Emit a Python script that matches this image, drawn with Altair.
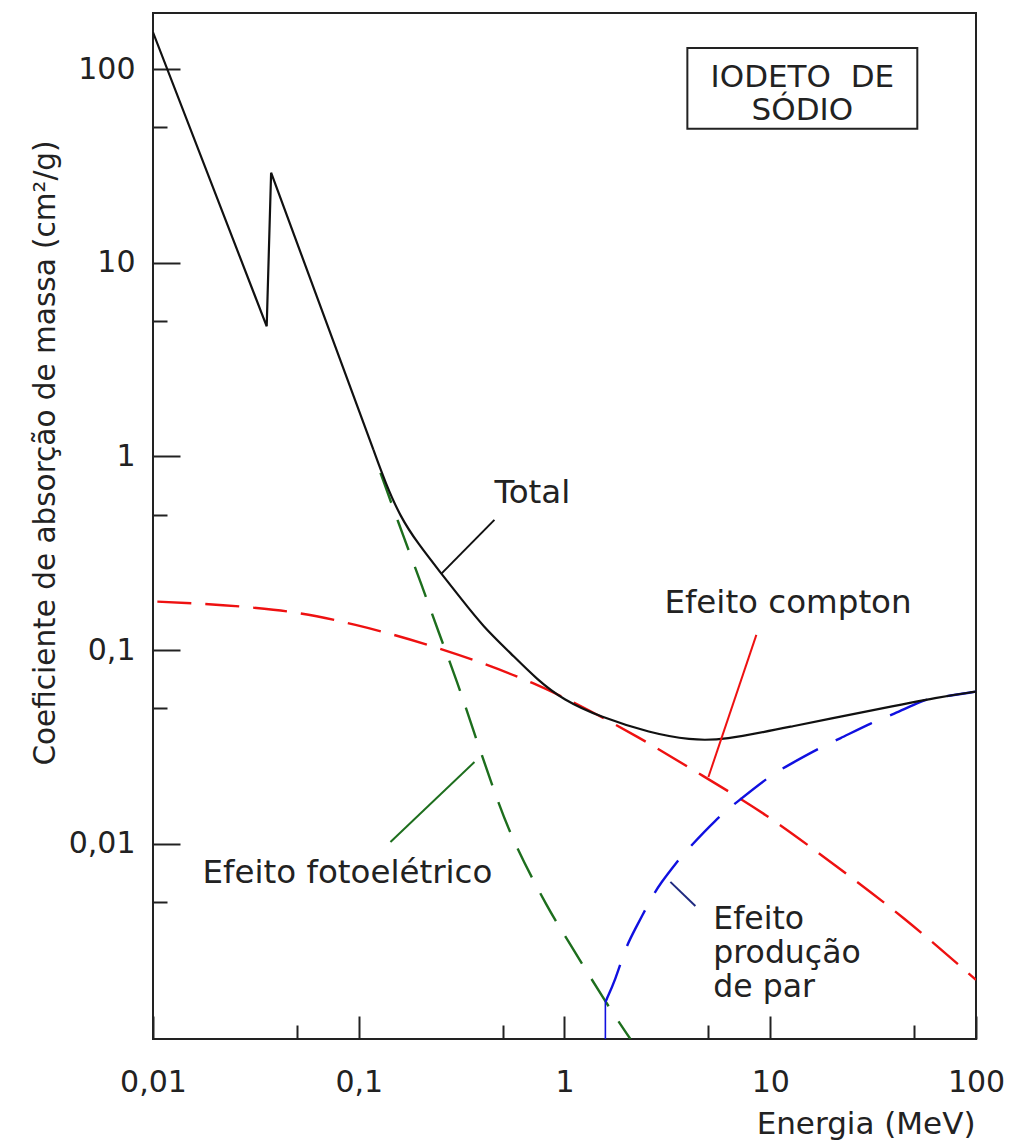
import altair as alt
import pandas as pd

FONT = "DejaVu Sans"
INK = "#222222"

# ---- data (E in MeV, mu in cm2/g) ----
total_E = [0.01, 0.0357, 0.0375, 0.1179, 0.1348, 0.1594, 0.1929, 0.2522, 0.312, 0.4036,
           0.546, 0.739, 0.988, 1.494, 2.615, 4.09, 5.85, 12.52, 31.7, 67.1, 100]
total_mu = [155, 4.7, 29.2, 1.08, 0.7297, 0.4868, 0.3574, 0.248, 0.186, 0.1316,
            0.0966, 0.070, 0.0552, 0.0451, 0.0373, 0.0343, 0.0341, 0.0402, 0.049, 0.0574, 0.061]
# index where the K-edge (straight) part ends and the smooth part begins
total_split = 3

compton_E = [0.0105, 0.0298, 0.0504, 0.0964, 0.1426, 0.2412, 0.383, 0.698, 2.26, 4.09,
             9.47, 21.1, 44.5, 100]
compton_mu = [0.1778, 0.166, 0.1555, 0.1349, 0.1211, 0.1025, 0.0868, 0.0676, 0.0356, 0.0245,
              0.01407, 0.0076, 0.00412, 0.00198]

photo_E = [0.1275, 0.1686, 0.2040, 0.2439, 0.3017, 0.3568, 0.4365, 0.546, 0.854, 0.988, 1.58, 2.09]
photo_mu = [0.822, 0.3616, 0.212, 0.124, 0.0684, 0.0396, 0.02133, 0.01083, 0.00439, 0.003457,
            0.00152, 0.00098]

pair_E = [1.58, 1.58, 1.768, 1.977, 2.169, 2.666, 2.924, 3.525, 3.868, 5.514, 6.767, 9.82,
          12.29, 17.85, 21.12, 31.8, 39.1, 55.6, 62.2, 100]
pair_mu = [0.00098, 0.00152, 0.00198, 0.00288, 0.00351, 0.00532, 0.00624, 0.00807, 0.00909,
           0.01353, 0.01617, 0.02219, 0.0255, 0.0317, 0.0343, 0.0427, 0.0462, 0.0552, 0.0564, 0.061]
# the first segment (threshold) is a solid vertical stroke
pair_split = 1

x_major_ticks = [0.01, 0.1, 1, 10, 100]
x_minor_ticks = [0.05, 0.5, 5, 50]
y_major_ticks = [0.01, 0.1, 1, 10, 100]
y_minor_ticks = [0.005, 0.05, 0.5, 5, 50]

x_title = "Energia (MeV)"
y_title = "Coeficiente de absorção de massa (cm²/g)"

# annotation anchors (data coordinates)
label_total = ("Total", 0.4564, 0.5753)
label_compton = ("Efeito compton", 3.058, 0.1555)
label_photo = ("Efeito fotoelétrico", 0.0174, 0.00627)
label_pair = ("Efeito\nprodução\nde par", 5.29, 0.003625)
leader_total = (0.2522, 0.248, 0.4564, 0.47)
leader_compton = (5.005, 0.0221, 8.56, 0.1197)
leader_photo = (0.1426, 0.0102, 0.365, 0.0264)
leader_pair = (3.27, 0.00635, 4.325, 0.00477)
box_text = ("IODETO\u00a0\u00a0DE\nSÓDIO", 14.32, 81.0)
box_E = (3.955, 51.85)
box_mu = (49.2, 128.8)

# ---- scales ----
xs = alt.Scale(type="log", domain=[0.01, 100], nice=False)
ys = alt.Scale(type="log", domain=[0.00098, 195], nice=False)


def curve_df(E, mu):
    return pd.DataFrame({"E": E, "mu": mu, "i": list(range(len(E)))})


def curve(E, mu, color, width, dash=None, xaxis=None, yaxis=None, opacity=1.0,
          interp="basis"):
    kw = dict(color=color, strokeWidth=width, clip=True, strokeOpacity=opacity,
              interpolate=interp)
    if dash is not None:
        kw["strokeDash"] = dash
    return alt.Chart(curve_df(E, mu)).mark_line(**kw).encode(
        x=alt.X("E:Q", scale=xs, axis=xaxis),
        y=alt.Y("mu:Q", scale=ys, axis=yaxis),
        order="i:Q",
    )


label_common = dict(labelFont=FONT, labelFontSize=30, labelColor=INK, tickColor=INK,
                    tickWidth=2, domain=False, grid=False, labelOverlap=False)

x_major = alt.Axis(orient="bottom", values=x_major_ticks, format="~g",
                   labelExpr="replace(datum.label, '.', ',')",
                   tickSize=23, offset=-23, labelPadding=28, labelFlush=False,
                   title=x_title, titleFont=FONT, titleFontSize=31, titleFontWeight="normal",
                   titleColor=INK, titleX=822, titleY=117, titleAlign="right",
                   titleBaseline="alphabetic", **label_common)
x_minor = alt.Axis(orient="bottom", values=x_minor_ticks, labels=False, tickSize=14,
                   offset=-14, title=None, tickColor=INK, tickWidth=2, domain=False, grid=False)
y_major = alt.Axis(orient="left", values=y_major_ticks, format="~g",
                   labelExpr="replace(datum.label, '.', ',')",
                   tickSize=27, offset=-27, labelPadding=18,
                   title=y_title, titleFont=FONT, titleFontSize=29.5, titleFontWeight="normal",
                   titleColor=INK, titleAngle=270, titleX=-126, titleY=439.5,
                   titleAlign="center", titleBaseline="alphabetic", **label_common)
y_minor = alt.Axis(orient="left", values=y_minor_ticks, labels=False, tickSize=14,
                   offset=-14, title=None, tickColor=INK, tickWidth=2, domain=False, grid=False)

RED = "#ee1111"
GREEN = "#1d6e1d"
BLUE = "#1010e0"
BLACK = "#111111"

compton = curve(compton_E, compton_mu, RED, 2.4, [34, 14], interp="monotone")
photo = curve(photo_E, photo_mu, GREEN, 2.4, [32, 18], interp="basis")
pair_stem = curve(pair_E[:pair_split + 1], pair_mu[:pair_split + 1], BLUE, 1.6,
                  interp="linear")
pair = curve(pair_E[pair_split:], pair_mu[pair_split:], BLUE, 2.4, [40, 20], interp="basis")
total_edge = curve(total_E[:total_split + 1], total_mu[:total_split + 1], BLACK, 2.2,
                   None, x_major, y_major, interp="linear")
total_smooth = curve(total_E[total_split:], total_mu[total_split:], BLACK, 2.2,
                     interp="basis")
minor_axes = curve(total_E, total_mu, BLACK, 1, None, x_minor, y_minor, opacity=0.0,
                   interp="linear")


def leader(seg, color):
    df = pd.DataFrame({"E1": [seg[0]], "m1": [seg[1]], "E2": [seg[2]], "m2": [seg[3]]})
    return alt.Chart(df).mark_rule(color=color, strokeWidth=2).encode(
        x=alt.X("E1:Q", scale=xs, axis=None), x2="E2:Q",
        y=alt.Y("m1:Q", scale=ys, axis=None), y2="m2:Q",
    )


def label(spec, align="left", baseline="alphabetic", size=32.5, line_height=34):
    df = pd.DataFrame({"t": [spec[0]], "E": [spec[1]], "mu": [spec[2]]})
    return alt.Chart(df).mark_text(
        align=align, baseline=baseline, font=FONT, fontSize=size, color=INK,
        lineBreak="\n", lineHeight=line_height,
    ).encode(
        x=alt.X("E:Q", scale=xs, axis=None),
        y=alt.Y("mu:Q", scale=ys, axis=None),
        text="t:N",
    )


box_df = pd.DataFrame({"E1": [box_E[0]], "E2": [box_E[1]], "m1": [box_mu[0]], "m2": [box_mu[1]]})
box = alt.Chart(box_df).mark_rect(fill="white", stroke=INK, strokeWidth=2).encode(
    x=alt.X("E1:Q", scale=xs, axis=None), x2="E2:Q",
    y=alt.Y("m1:Q", scale=ys, axis=None), y2="m2:Q",
)

chart = alt.layer(
    compton, photo, pair_stem, pair, total_edge, total_smooth, minor_axes,
    leader(leader_total, BLACK),
    leader(leader_compton, RED),
    leader(leader_photo, GREEN),
    leader(leader_pair, "#1f2a80"),
    label(label_total),
    label(label_compton),
    label(label_photo),
    label(label_pair, size=31.5),
    box,
    label(box_text, align="center", size=31, line_height=33),
).resolve_axis(
    x="independent", y="independent"
).properties(
    width=823, height=1026,
    autosize=alt.AutoSizeParams(type="none"),
    padding={"left": 153, "top": 13, "right": 34, "bottom": 103},
    background="white",
).configure_view(
    stroke=INK, strokeWidth=2
)

chart.save("out.html", embed_options={"renderer": "svg", "actions": False})
